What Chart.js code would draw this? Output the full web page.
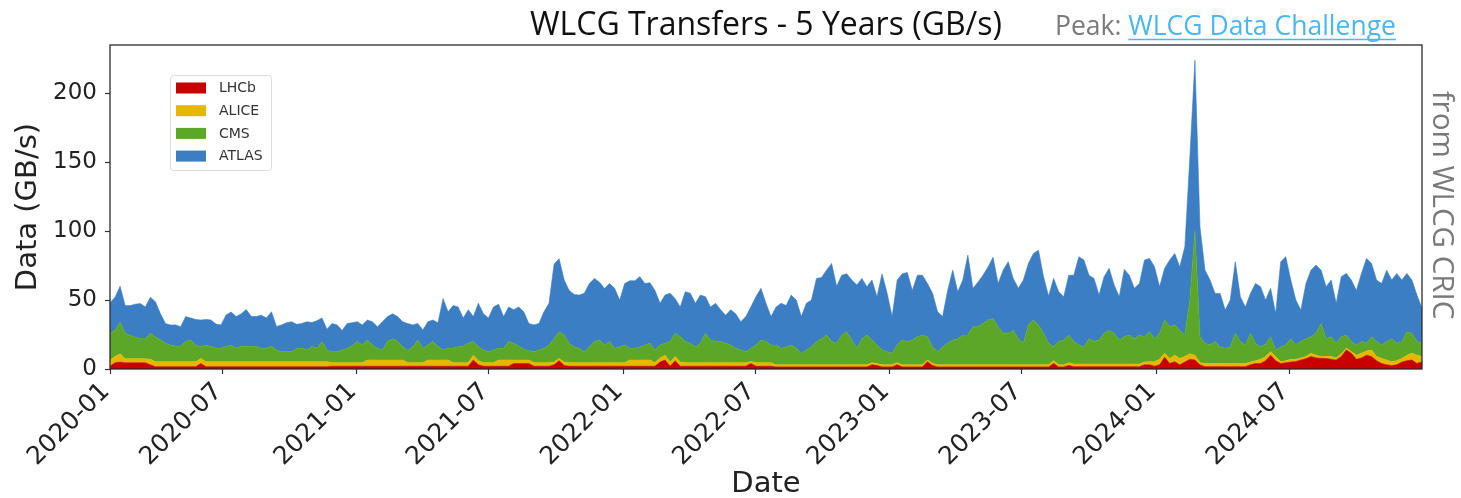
<!DOCTYPE html>
<html>
<head>
<meta charset="utf-8">
<script src="https://cdn.jsdelivr.net/npm/chart.js@4.4.1/dist/chart.umd.min.js"></script>
<style>
html,body{margin:0;padding:0;background:#fff;}
#wrap{width:1461px;height:498px;position:relative;}
</style>
</head>
<body>
<div id="wrap"><canvas id="c" width="1461" height="498"></canvas></div>
<script>
// ---- data (weekly samples, GB/s) ----
const seriesNames = ['LHCb', 'ALICE', 'CMS', 'ATLAS'];

const lhcb = [
2,4.5,5,4.5,4.5,4.5,4.5,4.5,3,1.7,
1.7,1.7,1.7,1.7,1.7,1.7,1.7,1.7,4,1.7,
1.7,1.7,1.7,1.7,1.7,1.7,1.7,1.7,1.7,1.7,
1.7,1.7,1.7,1.7,1.7,1.7,1.7,1.7,1.7,1.7,
1.7,1.7,1.7,1.7,2,2,2,2,2,2,
2,2,2,2,2,2,2,2,2,2,
2,2,2,2,2,2,2,2,2,2,
2,2,6.5,3,2,2,2,2,2,2,
4,4,4,4,2,2,2,2,3,6,
2.5,2,2,2,2,2,2,2,2,2,
2,2,2,2,2,2,2,2,2,5,
6.5,2,6,2,2,2,2,2,2,2,
2,2,2,2,2,2,2,4,2,2,
2,2,1.5,1.5,1.5,1.5,1.5,1.5,1.5,1.5,
1.5,1.5,1.5,1.5,1.5,1.5,1.5,1.5,1.5,1.5,
1.5,3,2.5,1.5,1.5,1.5,3,1.5,1.5,1.5,
1.5,1.5,5.3,2.5,1.5,1.5,1.5,1.5,1.5,1.5,
1.5,1.5,1.5,1.5,1.5,1.5,1.5,1.5,1.5,1.5,
1.5,1.5,1.5,1.5,1.5,1.5,1.5,4,1.5,1.5,
2.5,1.7,1.7,1.7,1.7,1.7,1.7,1.7,1.7,1.7,
1.7,1.7,1.7,1.7,1.7,3,3,2,3,8.5,
4,5.3,3,5,7,6.5,3,1.7,1.7,1.7,
1.7,1.7,1.7,1.7,1.7,1.7,3,4,4,6,
10,6,4,4.5,5,5.5,6.5,7.5,9,8,
7.7,7.7,7,6.5,9,13.8,11.4,7,8,10,
9,6,4,3,2.5,3,5,6,6.5,4,
5.3
];

const alice = [
4.5,4.5,6,3,3,3,3,3,4,3.6,
3.6,3.6,3.6,3.6,3.6,3.6,3.6,3.6,3.7,3.6,
3.6,3.6,3.6,3.6,3.6,3.6,3.6,3.6,3.6,3.6,
3.6,3.6,3.6,3.6,3.6,3.6,3.6,3.6,3.6,3.6,
3.6,3.6,3.6,3.6,2.6,2.6,2.6,2.6,2.6,2.6,
2.6,4.5,4.5,4.5,4.5,4.5,4.5,4.5,4.5,2.6,
2.6,2.6,2.6,4.5,4.5,4.5,4.5,4.5,2.6,2.6,
2.6,2.6,3.5,3,2.6,2.6,2.6,4.5,4.5,4.5,
2.5,2.5,2.5,2.5,2.6,2.6,2.6,2.6,2,1.7,
2.5,2.6,2.6,2.6,2.6,2.6,2.6,2.6,2.6,2.6,
2.6,2.6,2.6,4.5,4.5,4.5,4.5,4.5,2.6,3,
3.5,3,3,3,2.6,2.6,2.6,2.6,2.6,2.6,
2.6,2.6,2.6,2.6,2.6,2.6,2.6,1.5,2.6,2.6,
2.6,2.6,1.5,1.5,1.5,1.5,1.5,1.5,1.5,1.5,
1.5,1.5,1.5,1.5,1.5,1.5,1.5,1.5,1.5,1.5,
1.5,1.6,1.5,1.5,1.5,1.5,1.6,1.5,1.5,1.5,
1.5,1.5,1.2,1.5,1.5,1.5,1.5,1.5,1.5,1.5,
1.5,1.5,1.5,1.5,1.5,1.5,1.5,1.5,1.5,1.5,
1.5,1.5,1.5,1.5,1.5,1.5,1.5,2,1.5,1.5,
2,1.9,1.9,1.9,1.9,1.9,1.9,1.9,1.9,1.9,
1.9,1.9,1.9,1.9,1.9,2,2.3,3.3,4,2.9,
3.7,4.7,4.7,4,4,3.5,1.6,2.3,2.3,2.3,
2.3,2.3,2.3,2.3,2.3,2.3,2,2,3,3,
2.6,3,1.3,1.5,2,1.5,1.5,1.5,2.4,2,
1.3,1.3,2,1.5,2,1.2,1.2,3,3.4,3,
4.8,3,3.7,3.5,2.8,3,2.7,4,4.9,6,
3.7
];

const cms = [
19.5,19,23,18.5,17,15.5,14.5,14.5,19,18,
15.7,13.3,12,11.4,11.4,14.7,15.7,12,8.5,12,
11,9.7,9.7,11,12,9.7,11.4,11,11.4,11,
9.7,9.7,11.4,8.5,7.3,7.3,7.3,9.7,9.7,8.5,
11,9.7,14.7,8.5,
8,8,9.2,10.4,12.1,15.4,12.8,14.5,10.9,8.5,
7.3,13.5,15.5,13.5,9.7,8.7,11.6,16.4,10.4,10.9,
13.5,9.7,7.3,8.5,10.4,11.6,12.1,14,10,10.2,
9.2,8,9.2,8.5,8.5,13.5,12.1,10.2,7.8,6.8,
8,9.2,10.4,12.8,
17,19.3,19.6,14,11.4,10.4,8,11.4,15.4,16.4,
12.8,15.4,10.4,11.4,12.8,8.5,8.5,9.5,10.9,12.1,
9.2,9.4,8.6,15,17,18.4,15.4,14,11.4,14,
21.4,16.4,15.4,15.4,14,12.8,10.4,9.2,8,9.5,
12.8,16.4,15.4,12.8,
14.4,12,13,14.4,12,8.4,10.8,13,17,19,
21.6,17,15.6,21.6,24,18,12,19,21.6,16.4,
13.4,10.8,9.6,8.4,12.8,18,17,18,20.4,21.6,
16.9,12,9.6,13,15.6,18,19,21.6,21.6,27.7,
27.7,30,32.5,33.7,
27.7,23,23,25,19,15.6,29,32.5,29,23,
15.6,10,17,18,20.1,16.4,13.8,12.4,18.4,16.4,
17.4,22.4,24.4,22.4,17.4,19.8,21,18.4,21,18.4,
21.7,16.7,19,24.1,23,22,20.3,15.6,39,90.7,
18.8,14.6,13.4,16,
12,11,12,22,16,13.4,21,12.6,9,9,
10.8,4.8,10.7,11.4,15,10.4,12,13,12,16,
24,13,14.4,10.6,12.4,9.6,7.4,7.4,8.6,5.6,
9.6,11,9.7,13.5,16.7,12.6,12.3,17,14.6,10,
9.6
];

const atlas = [
22,24,26,20,21.5,24,25.5,23,26,25.5,
19,14.4,14.6,15.3,14,18,16,18.6,19.3,18.6,
19.3,17.6,17,22.8,24,23,23.3,26.8,21.3,21.8,
24,22,24.8,17,19.4,21,21.7,17.4,18,20.5,
17.4,20,17,15,
20.4,19.4,14.2,18,16.9,14.3,14.6,14.5,16.9,15.7,
20.5,18,18,18,18.1,19.7,15.8,12,13.3,16.9,
15.5,17.4,37.2,26.5,31,28.8,20.3,24.4,18,31.4,
26.2,24.4,31.2,32,23,25,24.4,28.3,27.2,19.7,
19.4,19.2,26.5,30.2,
54,53,40,38.4,38,38.6,42.4,46,45.7,42,
41,42,43.5,34,44.6,49,49,51,44.6,44,
43.2,30.2,35,35,25,21.6,36,36.4,31.6,35,
26.4,24,27.6,23,20.4,25.6,25,20.5,25.4,30,
35,37.5,27.6,20.6,
27.6,32.6,30,36.2,35,26.6,33.8,34,45.7,44.4,
47.1,56.6,41.4,43.4,42,43.5,46,43.7,35.1,43.5,
35,55.2,42.4,26.6,47.1,48,50,36,44.6,43.4,
38.6,39,28.9,22,38.4,50.7,34,39.9,58,27.8,
32.3,35,38.5,44.3,
31.3,45.7,51.8,37.7,36.5,45.9,44.6,48.3,54.2,40.9,
34.3,49.7,36,31.4,43.4,48,64,63,46,45.7,
32.6,40.9,45,34.9,31.4,48.8,43.4,36.5,37.4,55.6,
53.2,52,33.7,37.5,48.3,51.8,46,64,104,123.3,
79.6,53.1,47.1,34.8,
38.8,27.8,34,51.8,32.4,27.6,28.8,43.4,43.7,32,
35.1,26.5,61.8,64,42.5,32.6,22.8,40,48.3,49.4,
38.7,37.7,41.1,29,43.6,44.7,44.5,39.6,49.3,61.6,
53.2,44.5,44.6,51.7,42.5,50.7,44.5,42.3,38.5,33.6,
25.4
];

// x axis: days since 2020-01-01 (first and last sample dates)
const firstSampleDay = 28;   // 2020-01-29
const lastSampleDay = 1825;  // 2024-12-30
const tickDays = [28, 182, 366, 547, 731, 912, 1096, 1277, 1461, 1643];
const tickLabels = ['2020-01','2020-07','2021-01','2021-07','2022-01','2022-07','2023-01','2023-07','2024-01','2024-07'];
const yTicks = [0, 50, 100, 150, 200];
const yMax = 235;

const titleText = 'WLCG Transfers - 5 Years (GB/s)';
const peakLabel = 'Peak: ';
const peakLink = 'WLCG Data Challenge';
const sideNote = 'from WLCG CRIC';

// ---- build ----
const colors = ['#c80000', '#e5b800', '#5ca727', '#3b7ec4'];
const seriesValues = [lhcb, alice, cms, atlas];
const nSamples = atlas.length;
const stepDays = (lastSampleDay - firstSampleDay) / (nSamples - 1);
function toPoints(arr) {
  return arr.map((v, i) => ({ x: firstSampleDay + i * stepDays, y: v }));
}

const datasets = seriesValues.map((arr, k) => ({
  label: seriesNames[k],
  data: toPoints(arr),
  backgroundColor: colors[k],
  borderColor: colors[k],
  borderWidth: 0.6,
  pointRadius: 0,
  tension: 0,
  fill: k === 0 ? 'origin' : '-1'
}));

const decor = {
  id: 'decor',
  afterDraw(chart) {
    const ctx = chart.ctx;
    const a = chart.chartArea;
    ctx.save();
    // frame (spines)
    ctx.strokeStyle = '#2b2b2b';
    ctx.lineWidth = 1.3;
    ctx.strokeRect(a.left, a.top, a.right - a.left, a.bottom - a.top);

    // title
    ctx.fillStyle = '#111';
    ctx.font = '32px "Open Sans"';
    ctx.textAlign = 'center';
    ctx.textBaseline = 'alphabetic';
    ctx.fillText(titleText, (a.left + a.right) / 2, 35);

    // peak note
    ctx.font = '26.5px "Open Sans"';
    ctx.textAlign = 'left';
    ctx.fillStyle = '#7a7a7a';
    const px = 1055;
    ctx.fillText(peakLabel, px, 35);
    const pw = ctx.measureText(peakLabel).width;
    ctx.fillStyle = '#4cb6ee';
    ctx.fillText(peakLink, px + pw, 35);
    const lw = ctx.measureText(peakLink).width;
    ctx.strokeStyle = '#4cb6ee';
    ctx.lineWidth = 1.5;
    ctx.beginPath();
    ctx.moveTo(px + pw, 39.5);
    ctx.lineTo(px + pw + lw, 39.5);
    ctx.stroke();

    // side note (rotated)
    ctx.save();
    ctx.translate(1441, 205);
    ctx.rotate(Math.PI / 2);
    ctx.textAlign = 'center';
    ctx.textBaseline = 'middle';
    ctx.fillStyle = '#7a7a7a';
    ctx.font = '29.5px "Open Sans"';
    ctx.fillText(sideNote, 0, 0);
    ctx.restore();

    // legend
    const lx = 170, ly = 75, lwid = 101, lh = 95;
    ctx.fillStyle = 'rgba(255,255,255,0.85)';
    ctx.strokeStyle = '#dcdcdc';
    ctx.lineWidth = 1;
    ctx.beginPath();
    if (ctx.roundRect) ctx.roundRect(lx + 0.5, ly + 0.5, lwid, lh, 3); else ctx.rect(lx + 0.5, ly + 0.5, lwid, lh);
    ctx.fill();
    ctx.stroke();
    ctx.font = '14px "DejaVu Sans"';
    ctx.textAlign = 'left';
    ctx.textBaseline = 'middle';
    chart.data.datasets.forEach((ds, i) => {
      const cy = 88 + i * 22.7;
      ctx.fillStyle = ds.backgroundColor;
      ctx.fillRect(176, cy - 5.5, 30, 11);
      ctx.fillStyle = '#333';
      ctx.fillText(ds.label, 219, cy + 0.5);
    });
    ctx.restore();
  }
};

new Chart(document.getElementById('c'), {
  type: 'line',
  data: { datasets },
  options: {
    responsive: false,
    animation: false,
    events: [],
    devicePixelRatio: 1,
    layout: { padding: { top: 45, right: 39, left: 0, bottom: 0 } },
    plugins: {
      legend: { display: false },
      tooltip: { enabled: false },
      title: { display: false }
    },
    scales: {
      x: {
        type: 'linear',
        min: firstSampleDay,
        max: lastSampleDay,
        afterBuildTicks: (s) => { s.ticks = tickDays.map(v => ({ value: v })); },
        afterFit: (s) => { s.height = 129; },
        grid: { display: true, drawOnChartArea: false, drawTicks: true, tickLength: 5, color: '#333', tickWidth: 1.2 },
        border: { display: false },
        ticks: {
          autoSkip: false,
          maxRotation: 45,
          minRotation: 45,
          padding: 3,
          labelOffset: -4,
          color: '#222',
          font: { family: 'DejaVu Sans', size: 25 },
          callback: (v) => { const i = tickDays.indexOf(v); return i >= 0 ? tickLabels[i] : ''; }
        },
        title: {
          display: true,
          text: 'Date',
          color: '#222',
          font: { family: 'DejaVu Sans', size: 29, lineHeight: 1 },
          padding: { top: 0, bottom: -1 }
        }
      },
      y: {
        stacked: true,
        min: 0,
        max: yMax,
        afterBuildTicks: (s) => { s.ticks = yTicks.map(v => ({ value: v })); },
        afterFit: (s) => { s.width = 110; },
        grid: { display: true, drawOnChartArea: false, drawTicks: true, tickLength: 5, color: '#333', tickWidth: 1.2 },
        border: { display: false },
        ticks: {
          padding: 8,
          color: '#222',
          font: { family: 'DejaVu Sans', size: 23 }
        },
        title: {
          display: true,
          text: 'Data (GB/s)',
          color: '#222',
          font: { family: 'DejaVu Sans', size: 29, lineHeight: 1 },
          padding: { top: 14, bottom: 0 }
        }
      }
    }
  },
  plugins: [decor]
});
</script>
</body>
</html>
